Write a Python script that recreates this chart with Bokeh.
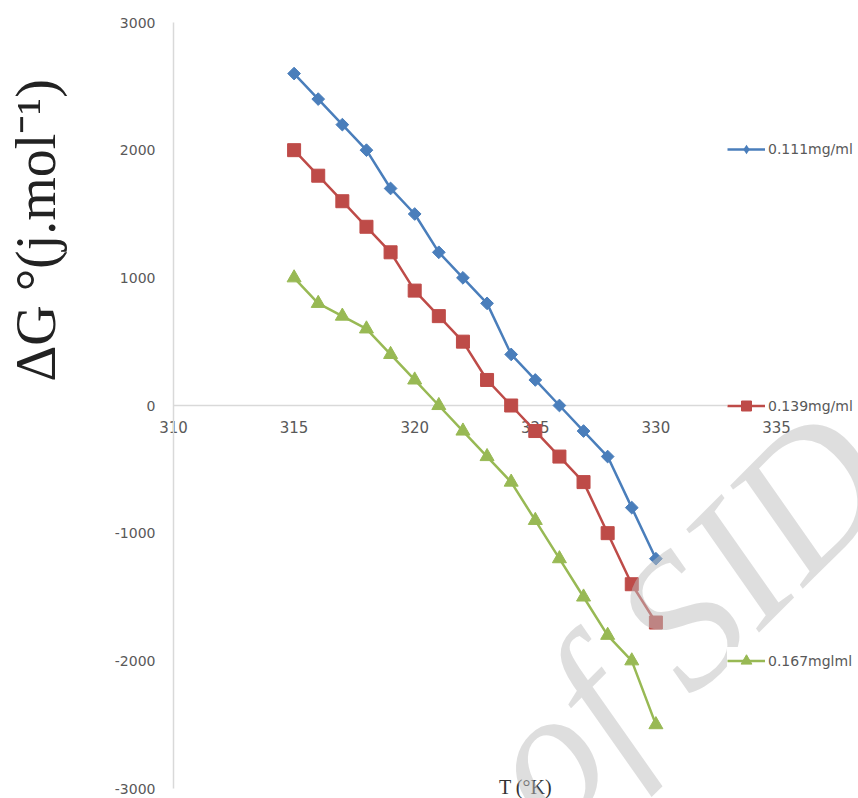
import numpy as np
from bokeh.plotting import figure
from bokeh.models import Range1d, Label, Legend, LegendItem, FixedTicker
from bokeh.core.properties import value
from bokeh.embed import file_html
from bokeh.resources import INLINE

# ---- data ----
temperature = [315, 316, 317, 318, 319, 320, 321, 322, 323, 324, 325, 326, 327, 328, 329, 330]
dg_0111 = [2600, 2400, 2200, 2000, 1700, 1500, 1200, 1000, 800, 400, 200, 0, -200, -400, -800, -1200]
dg_0139 = [2000, 1800, 1600, 1400, 1200, 900, 700, 500, 200, 0, -200, -400, -600, -1000, -1400, -1700]
dg_0167 = [1000, 800, 700, 600, 400, 200, 0, -200, -400, -600, -900, -1200, -1500, -1800, -2000, -2500]
series_labels = ["0.111mg/ml", "0.139mg/ml", "0.167mglml"]
x_ticks = [310, 315, 320, 325, 330, 335]
y_ticks = [-3000, -2000, -1000, 0, 1000, 2000, 3000]

BLUE = "#4A7EBB"
RED = "#BE4B48"
GREEN = "#98B954"
GRAY = "#595959"
AXIS_GRAY = "#D9D9D9"

# page geometry: x 310 at px 173, 335 at px 776; y 3000 at px 22, -3000 at px 788
W, H = 858, 798
X0_PX, X1_PX, Y0_PX, Y1_PX = 173, 776, 788, 22
px_per_x = (X1_PX - X0_PX) / (x_ticks[-1] - x_ticks[0])
px_per_y = (Y0_PX - Y1_PX) / (y_ticks[-1] - y_ticks[0])
x_start = x_ticks[0] - X0_PX / px_per_x
x_end = x_ticks[-1] + (W - X1_PX) / px_per_x
y_start = y_ticks[0] - (H - Y0_PX) / px_per_y
y_end = y_ticks[-1] + Y1_PX / px_per_y

p = figure(width=W, height=H, output_backend="svg", toolbar_location=None,
           x_range=Range1d(x_start, x_end), y_range=Range1d(y_start, y_end),
           min_border=0)
p.outline_line_color = None
p.grid.visible = False
p.background_fill_color = "white"
p.border_fill_color = "white"

# y axis crossing at x = 310
yax = p.yaxis[0]
yax.fixed_location = x_ticks[0]
yax.ticker = FixedTicker(ticks=y_ticks)
yax.major_label_overrides = {t: str(t) for t in y_ticks}
yax.bounds = (y_ticks[0], y_ticks[-1])
yax.major_tick_line_color = None
yax.minor_tick_line_color = None
yax.major_tick_out = 0
yax.major_tick_in = 0
yax.axis_line_color = AXIS_GRAY
yax.axis_line_width = 1.5
yax.major_label_text_color = GRAY
yax.major_label_text_font = "DejaVu Sans"
yax.major_label_text_font_size = "14px"
yax.major_label_standoff = 18
yax.level = "underlay"

# x axis crossing at y = 0
xax = p.xaxis[0]
xax.fixed_location = 0
xax.ticker = FixedTicker(ticks=x_ticks)
xax.bounds = (x_ticks[0], x_ticks[-1])
xax.major_tick_line_color = None
xax.minor_tick_line_color = None
xax.major_tick_out = 0
xax.major_tick_in = 0
xax.axis_line_color = AXIS_GRAY
xax.axis_line_width = 1.5
xax.major_label_text_color = GRAY
xax.major_label_text_font = "DejaVu Sans"
xax.major_label_text_font_size = "15px"
xax.major_label_standoff = 15
xax.level = "underlay"

# series
l1 = p.line(temperature, dg_0111, line_color=BLUE, line_width=2.5)
s1 = p.scatter(temperature, dg_0111, marker="square", angle=np.pi / 4, size=9,
               fill_color=BLUE, line_color=BLUE)
l2 = p.line(temperature, dg_0139, line_color=RED, line_width=2.5)
s2 = p.scatter(temperature, dg_0139, marker="square", size=13,
               fill_color=RED, line_color=RED)
l3 = p.line(temperature, dg_0167, line_color=GREEN, line_width=2.5)
s3 = p.scatter(temperature, dg_0167, marker="triangle", size=14,
               fill_color=GREEN, line_color=GREEN)
# legend-only diamond key for the first series (zero size in the plot itself)
s1_key = p.scatter(temperature[:1], dg_0111[:1], marker="diamond", size=0,
                   fill_color=BLUE, line_color=None)

# legends (three separate entries at different heights)
def add_legend(label, renderers, center_px, glyph_h):
    y_loc = int(round(H - center_px - glyph_h / 2))
    lg = Legend(items=[LegendItem(label=label, renderers=renderers)],
                location=(727, y_loc), orientation="vertical",
                glyph_width=38, glyph_height=glyph_h, label_height=glyph_h,
                label_standoff=3, padding=0, margin=0, spacing=0,
                border_line_color=None, background_fill_color="white",
                background_fill_alpha=1,
                label_text_font="DejaVu Sans", label_text_font_size="14px",
                label_text_color=GRAY)
    p.add_layout(lg)

add_legend(series_labels[0], [l1, s1_key], 149, 24)
add_legend(series_labels[1], [l2, s2], 405, 25)
add_legend(series_labels[2], [l3, s3], 660, 27)

# y-axis title
p.add_layout(Label(x=35, y=H - 230, x_units="screen", y_units="screen",
                   text="ΔG °(j.mol⁻¹)", angle=np.pi / 2,
                   text_align="center", text_baseline="middle",
                   text_font="Liberation Serif", text_font_size="56px",
                   text_color="#222222"))

# x-axis title
p.add_layout(Label(x=525, y=1, x_units="screen", y_units="screen",
                   text="T (°K)", text_align="center", text_baseline="bottom",
                   text_font="Liberation Serif", text_font_size="20px",
                   text_color="#333333"))

# watermark
p.add_layout(Label(x=682, y=H - 618, x_units="screen", y_units="screen",
                   text="of SID", angle=45 * np.pi / 180,
                   text_align="center", text_baseline="middle",
                   text_font="Liberation Serif", text_font_style="italic",
                   text_font_size="190px", text_color="#BDBDBD", text_alpha=0.5,
                   level="overlay"))

open("out.html", "w").write(file_html(p, INLINE))
